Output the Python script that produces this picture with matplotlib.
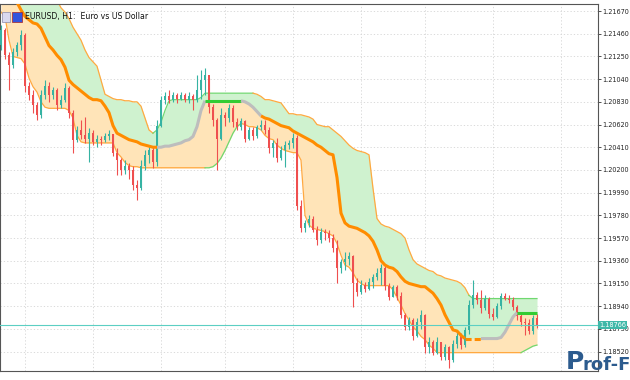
"""EURUSD H1 chart with a channel cloud, as shown in the terminal screenshot."""

import matplotlib
matplotlib.use("Agg")
import matplotlib.pyplot as plt
import numpy as np

# candles, one per hour (open of each bar = close of the bar before)
first_open = 1.2136
closes = [
    1.2149, 1.2126, 1.2117, 1.2129, 1.2136, 1.2145, 1.2098, 1.2089, 1.2080, 1.2071,
    1.2089, 1.2098, 1.2089, 1.2094, 1.2080, 1.2085, 1.2096, 1.2073, 1.2048, 1.2057,
    1.2052, 1.2049, 1.2054, 1.2046, 1.2049, 1.2048, 1.2051, 1.2053, 1.2036, 1.2029,
    1.2020, 1.2024, 1.2020, 1.2006, 1.2003, 1.2024, 1.2034, 1.2038, 1.2027, 1.2061,
    1.2085, 1.2088, 1.2085, 1.2089, 1.2086, 1.2089, 1.2085, 1.2088, 1.2085, 1.2094,
    1.2103, 1.2108, 1.2078, 1.2066, 1.2049, 1.2071, 1.2068, 1.2077, 1.2064, 1.2060,
    1.2065, 1.2049, 1.2057, 1.2051, 1.2060, 1.2062, 1.2057, 1.2040, 1.2045, 1.2031,
    1.2038, 1.2043, 1.2045, 1.2050, 1.1987, 1.1966, 1.1971, 1.1975, 1.1964, 1.1955,
    1.1963, 1.1962, 1.1957, 1.1948, 1.1929, 1.1935, 1.1938, 1.1940, 1.1915, 1.1907,
    1.1914, 1.1910, 1.1916, 1.1921, 1.1925, 1.1929, 1.1913, 1.1902, 1.1912, 1.1903,
    1.1886, 1.1875, 1.1881, 1.1866, 1.1879, 1.1886, 1.1856, 1.1861, 1.1851, 1.1861,
    1.1847, 1.1856, 1.1844, 1.1859, 1.1866, 1.1858, 1.1872, 1.1895, 1.1904, 1.1900,
    1.1892, 1.1901, 1.1887, 1.1884, 1.1894, 1.1903, 1.1901, 1.1900, 1.1893, 1.1885,
    1.1879, 1.1878, 1.1871, 1.1883, 1.1877,
]
highs = [
    1.2154, 1.2151, 1.2129, 1.2133, 1.2138, 1.2149, 1.2147, 1.2101, 1.2094, 1.2083,
    1.2094, 1.2103, 1.2101, 1.2097, 1.2096, 1.2089, 1.2100, 1.2098, 1.2075, 1.2061,
    1.2066, 1.2069, 1.2059, 1.2057, 1.2052, 1.2051, 1.2054, 1.2057, 1.2053, 1.2040,
    1.2031, 1.2029, 1.2026, 1.2024, 1.2011, 1.2029, 1.2038, 1.2042, 1.2042, 1.2066,
    1.2088, 1.2092, 1.2094, 1.2092, 1.2091, 1.2092, 1.2091, 1.2092, 1.2090, 1.2108,
    1.2112, 1.2114, 1.2105, 1.2081, 1.2068, 1.2077, 1.2074, 1.2081, 1.2080, 1.2068,
    1.2068, 1.2066, 1.2060, 1.2060, 1.2062, 1.2066, 1.2066, 1.2060, 1.2048, 1.2050,
    1.2042, 1.2047, 1.2048, 1.2054, 1.2052, 1.1992, 1.1974, 1.1978, 1.1977, 1.1968,
    1.1966, 1.1965, 1.1964, 1.1961, 1.1955, 1.1938, 1.1944, 1.1944, 1.1941, 1.1920,
    1.1918, 1.1916, 1.1920, 1.1924, 1.1929, 1.1933, 1.1931, 1.1915, 1.1914, 1.1914,
    1.1907, 1.1888, 1.1884, 1.1883, 1.1883, 1.1890, 1.1887, 1.1865, 1.1863, 1.1865,
    1.1860, 1.1859, 1.1857, 1.1863, 1.1870, 1.1869, 1.1875, 1.1900, 1.1918, 1.1907,
    1.1909, 1.1904, 1.1902, 1.1892, 1.1897, 1.1906, 1.1906, 1.1904, 1.1902, 1.1895,
    1.1887, 1.1883, 1.1882, 1.1886, 1.1887,
]
lows = [
    1.2131, 1.2123, 1.2094, 1.2114, 1.2125, 1.2131, 1.2092, 1.2085, 1.2073, 1.2066,
    1.2068, 1.2086, 1.2083, 1.2086, 1.2075, 1.2077, 1.2083, 1.2068, 1.2036, 1.2046,
    1.2049, 1.2045, 1.2027, 1.2043, 1.2041, 1.2043, 1.2046, 1.2048, 1.2033, 1.2015,
    1.2015, 1.2016, 1.2012, 1.2001, 1.1992, 1.2001, 1.2020, 1.2026, 1.2022, 1.2024,
    1.2060, 1.2081, 1.2082, 1.2083, 1.2082, 1.2085, 1.2083, 1.2082, 1.2075, 1.2083,
    1.2086, 1.2089, 1.2073, 1.2061, 1.2020, 1.2048, 1.2061, 1.2064, 1.2060, 1.2057,
    1.2057, 1.2046, 1.2048, 1.2048, 1.2050, 1.2057, 1.2053, 1.2036, 1.2032, 1.2027,
    1.2029, 1.2023, 1.2039, 1.2040, 1.1983, 1.1963, 1.1963, 1.1967, 1.1963, 1.1951,
    1.1952, 1.1955, 1.1953, 1.1944, 1.1915, 1.1925, 1.1927, 1.1932, 1.1893, 1.1903,
    1.1905, 1.1907, 1.1909, 1.1911, 1.1918, 1.1914, 1.1909, 1.1900, 1.1902, 1.1900,
    1.1883, 1.1872, 1.1872, 1.1863, 1.1865, 1.1873, 1.1851, 1.1851, 1.1849, 1.1850,
    1.1844, 1.1844, 1.1837, 1.1842, 1.1855, 1.1854, 1.1856, 1.1868, 1.1892, 1.1896,
    1.1888, 1.1890, 1.1883, 1.1881, 1.1883, 1.1891, 1.1900, 1.1897, 1.1890, 1.1881,
    1.1876, 1.1867, 1.1868, 1.1868, 1.1874,
]

# channel indicator: upper edge, middle line, lower edge
upper_band = [
    1.2215, 1.2215, 1.2215, 1.2215, 1.2215, 1.2215, 1.2215, 1.2215, 1.2215, 1.2215,
    1.2196, 1.2191, 1.2186, 1.2182, 1.2177, 1.2170, 1.2166, 1.2160, 1.2152, 1.2146,
    1.2140, 1.2131, 1.2124, 1.2120, 1.2116, 1.2103, 1.2090, 1.2088, 1.2086, 1.2085,
    1.2085, 1.2084, 1.2084, 1.2083, 1.2083, 1.2079, 1.2068, 1.2057, 1.2054, 1.2057,
    1.2064, 1.2075, 1.2084, 1.2085, 1.2085, 1.2085, 1.2085, 1.2085, 1.2085, 1.2085,
    1.2087, 1.2091, 1.2091, 1.2091, 1.2091, 1.2091, 1.2091, 1.2091, 1.2091, 1.2091,
    1.2091, 1.2091, 1.2091, 1.2091, 1.2090, 1.2088, 1.2085, 1.2085, 1.2084, 1.2083,
    1.2082, 1.2077, 1.2072, 1.2072, 1.2071, 1.2071, 1.2070, 1.2069, 1.2067, 1.2062,
    1.2061, 1.2060, 1.2060, 1.2057, 1.2054, 1.2051, 1.2047, 1.2043, 1.2040, 1.2038,
    1.2037, 1.2036, 1.2034, 1.2003, 1.1975, 1.1970, 1.1968, 1.1967, 1.1965, 1.1963,
    1.1961, 1.1957, 1.1946, 1.1937, 1.1933, 1.1931, 1.1929, 1.1927, 1.1926, 1.1923,
    1.1922, 1.1920, 1.1919, 1.1918, 1.1917, 1.1915, 1.1911, 1.1904, 1.1901, 1.1901,
    1.1901, 1.1901, 1.1901, 1.1901, 1.1901, 1.1901, 1.1901, 1.1901, 1.1901, 1.1901,
    1.1901, 1.1901, 1.1901, 1.1901, 1.1901,
]
middle_line = [
    1.2196, 1.2191, 1.2186, 1.2182, 1.2175, 1.2168, 1.2162, 1.2159, 1.2156, 1.2155,
    1.2151, 1.2143, 1.2135, 1.2131, 1.2126, 1.2122, 1.2115, 1.2103, 1.2099, 1.2096,
    1.2093, 1.2090, 1.2087, 1.2085, 1.2085, 1.2084, 1.2079, 1.2073, 1.2061, 1.2054,
    1.2052, 1.2050, 1.2048, 1.2047, 1.2046, 1.2044, 1.2043, 1.2042, 1.2041, 1.2041,
    1.2041, 1.2042, 1.2042, 1.2043, 1.2044, 1.2045, 1.2047, 1.2048, 1.2051, 1.2060,
    1.2075, 1.2084, 1.2084, 1.2084, 1.2084, 1.2084, 1.2084, 1.2084, 1.2084, 1.2084,
    1.2084, 1.2083, 1.2081, 1.2078, 1.2074, 1.2070, 1.2068, 1.2067, 1.2065, 1.2063,
    1.2061, 1.2060, 1.2059, 1.2056, 1.2054, 1.2052, 1.2050, 1.2048, 1.2046, 1.2043,
    1.2041, 1.2038, 1.2035, 1.2034, 1.2013, 1.1980, 1.1971, 1.1968, 1.1967, 1.1966,
    1.1964, 1.1962, 1.1959, 1.1954, 1.1946, 1.1936, 1.1932, 1.1930, 1.1929, 1.1926,
    1.1921, 1.1917, 1.1915, 1.1914, 1.1913, 1.1912, 1.1912, 1.1909, 1.1906, 1.1901,
    1.1895, 1.1886, 1.1879, 1.1872, 1.1871, 1.1867, 1.1864, 1.1864, 1.1864, 1.1864,
    1.1864, 1.1864, 1.1864, 1.1864, 1.1864, 1.1865, 1.1870, 1.1877, 1.1884, 1.1888,
    1.1888, 1.1888, 1.1888, 1.1888, 1.1888,
]
lower_band = [
    1.2166, 1.2162, 1.2140, 1.2125, 1.2124, 1.2123, 1.2118, 1.2105, 1.2097, 1.2092,
    1.2083, 1.2078, 1.2077, 1.2077, 1.2077, 1.2077, 1.2077, 1.2075, 1.2068, 1.2052,
    1.2046, 1.2045, 1.2045, 1.2045, 1.2045, 1.2045, 1.2045, 1.2045, 1.2045, 1.2036,
    1.2032, 1.2027, 1.2024, 1.2023, 1.2023, 1.2022, 1.2022, 1.2022, 1.2022, 1.2022,
    1.2022, 1.2022, 1.2022, 1.2022, 1.2022, 1.2022, 1.2022, 1.2022, 1.2022, 1.2022,
    1.2022, 1.2022, 1.2022, 1.2023, 1.2026, 1.2031, 1.2038, 1.2046, 1.2054, 1.2060,
    1.2063, 1.2062, 1.2060, 1.2060, 1.2059, 1.2057, 1.2052, 1.2049, 1.2048, 1.2043,
    1.2040, 1.2038, 1.2037, 1.2036, 1.2036, 1.2029, 1.1978, 1.1969, 1.1966, 1.1965,
    1.1964, 1.1963, 1.1961, 1.1959, 1.1952, 1.1941, 1.1932, 1.1930, 1.1925, 1.1918,
    1.1915, 1.1913, 1.1913, 1.1913, 1.1913, 1.1913, 1.1913, 1.1913, 1.1909, 1.1902,
    1.1895, 1.1887, 1.1881, 1.1875, 1.1871, 1.1866, 1.1863, 1.1858, 1.1855, 1.1851,
    1.1851, 1.1851, 1.1851, 1.1851, 1.1851, 1.1851, 1.1851, 1.1851, 1.1851, 1.1851,
    1.1851, 1.1851, 1.1851, 1.1851, 1.1851, 1.1851, 1.1851, 1.1851, 1.1851, 1.1851,
    1.1851, 1.1853, 1.1855, 1.1857, 1.1858,
]

# colour runs of the middle line: (first bar, last bar, colour, style)
middle_runs = [
    (0, 39, "#ff8c00", "-"),
    (39, 51, "#bdbdbd", "-"),
    (51, 60, "#33cc33", "-"),
    (60, 65, "#bdbdbd", "-"),
    (65, 116, "#ff8c00", "-"),
    (116, 120, "#ff8c00", (0, (2, 1))),
    (120, 129, "#bdbdbd", "-"),
    (129, 134, "#33cc33", "-"),
]
upper_runs = [(0, 38, "#ffa940"), (38, 63, "#70d870"), (63, 117, "#ffa940"), (117, 134, "#70d870")]
lower_runs = [(0, 51, "#ffa940"), (51, 60, "#70d870"), (60, 130, "#ffa940"), (130, 134, "#70d870")]

price_ticks = [1.21670, 1.21460, 1.21250, 1.21040, 1.20830, 1.20620, 1.20410, 1.20200,
               1.19990, 1.19780, 1.19570, 1.19360, 1.19150, 1.18940, 1.18730, 1.18520]
bid_price = 1.18766

BULL = "#36b3a3"
BEAR = "#ef4f4f"

fig = plt.figure(figsize=(6.3, 3.8), dpi=100)
ax = fig.add_axes([0.0, 9 / 380, 598 / 630, 367 / 380])

n = len(closes)
x = np.arange(n)
opens = np.array([first_open] + closes[:-1])
closes_a = np.array(closes)
up = closes_a >= opens

# cloud
ax.fill_between(x, upper_band, middle_line, color="#cff2cf", linewidth=0, zorder=1)
ax.fill_between(x, middle_line, lower_band, color="#ffe4b8", linewidth=0, zorder=1)
for a, b, col in upper_runs:
    ax.plot(x[a:b + 1], upper_band[a:b + 1], color=col, lw=0.9, zorder=2)
for a, b, col in lower_runs:
    ax.plot(x[a:b + 1], lower_band[a:b + 1], color=col, lw=0.9, zorder=2)

# candles
colors = np.where(up, BULL, BEAR)
ax.vlines(x, lows, highs, colors=colors, lw=0.8, zorder=3)
body_lo = np.minimum(opens, closes_a)
body_h = np.maximum(np.abs(closes_a - opens), 0.00006)
ax.bar(x, body_h, bottom=body_lo, width=0.68, color=colors, linewidth=0, zorder=3)

# middle line on top of candles
for a, b, col, ls in middle_runs:
    ax.plot(x[a:b + 1], middle_line[a:b + 1], color=col, lw=2.2, ls=ls,
            solid_capstyle="butt", zorder=4)

# bid line
ax.axhline(bid_price, color="#5ccfc3", lw=0.8, zorder=5)

ax.set_xlim(-0.25, 149.25)
ax.set_ylim(1.18340, 1.21735)

# grid
for t in price_ticks:
    ax.axhline(t, color="#d4d4d4", lw=0.6, ls=(0, (1.5, 2.5)), zorder=0)
for gx in [6, 23, 40, 56, 73, 90, 106, 123, 140]:
    ax.axvline(gx, color="#d4d4d4", lw=0.6, ls=(0, (1.5, 2.5)), zorder=0)

ax.set_xticks([])
ax.yaxis.tick_right()
ax.set_yticks(price_ticks)
ax.set_yticklabels([f"{t:.5f}" for t in price_ticks], fontsize=4.7, color="#222222")
ax.tick_params(axis="y", length=2.5, width=0.6, pad=0.8, color="#333333")
for s in ax.spines.values():
    s.set_linewidth(0.8)
    s.set_color("#555555")

# bid price label on the axis
ax.text(1.002, bid_price, f"{bid_price:.5f}", transform=ax.get_yaxis_transform(),
        fontsize=4.7, color="white", va="center", ha="left", zorder=6,
        bbox=dict(boxstyle="square,pad=0.2", fc="#3fb8a8", ec="none"))

# title with small chart icon
fig.patches.append(plt.Rectangle((2 / 630, 1 - 22 / 380), 8 / 630, 10 / 380,
                                 transform=fig.transFigure, fc="#d9d9f0", ec="#8888aa", lw=0.5))
fig.patches.append(plt.Rectangle((12 / 630, 1 - 22 / 380), 10 / 630, 10 / 380,
                                 transform=fig.transFigure, fc="#3355dd", ec="#aa2222", lw=0.5))
fig.text(25 / 630, 1 - 16 / 380, "EURUSD, H1:  Euro vs US Dollar", fontsize=5.6,
         color="#111111", va="center", ha="left")

# watermark
fig.text(566 / 630, 6 / 380, "P", fontsize=18, fontweight="bold", color="#2c5b8e",
         ha="left", va="bottom")
fig.text(583 / 630, 6 / 380, "rof-F", fontsize=13, fontweight="bold", color="#2c5b8e",
         ha="left", va="bottom")

fig.savefig("out.png", dpi=100)
